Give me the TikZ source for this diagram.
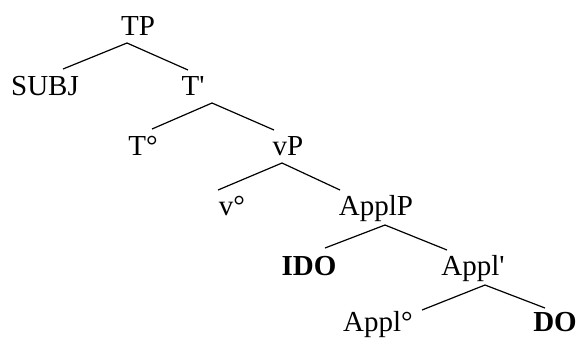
\documentclass[tikz,border=0pt]{standalone}
\usepackage{fontspec}
\setmainfont{Liberation Serif}
\usetikzlibrary{positioning}
\newcommand\treefont{\fontsize{14.5}{17}\selectfont}
\tikzset{
    every picture/.style = {
        x = 0.5pt,
        y = -0.5pt
    },
    lbl/.style = {
        anchor = base,
        inner sep = 0pt,
        outer sep = 0pt,
        font = \treefont
    },
    branch/.style = {
        line width = 0.6pt
    }
}

\begin{document}
\begin{tikzpicture}
    \useasboundingbox (0, 0) rectangle (581, 339);

    % labels
    \node[lbl] (tp)      at (138, 35)  {TP};
    \node[lbl] (subj)    at (45, 95)   {SUBJ};
    \node[lbl] (tbar)    at (193, 95)  {T\textquotesingle};
    \node[lbl] (t0)      at (143, 155) {T\textdegree};
    \node[lbl] (vp)      at (288, 155) {vP};
    \node[lbl] (v0)      at (232, 215) {v\textdegree};
    \node[lbl] (applp)   at (376, 215) {ApplP};
    \node[lbl] (ido)     at (309, 275) {\textbf{IDO}};
    \node[lbl] (applbar) at (473, 275) {Appl\textquotesingle};
    \node[lbl] (appl0)   at (378, 331) {Appl\textdegree};
    \node[lbl] (do)      at (555, 331) {\textbf{DO}};

    % branch ends
    \coordinate (tp-a)      at (127, 43);
    \coordinate (subj-e)    at (63, 69);
    \coordinate (tbar-e)    at (188, 70);
    \coordinate (tbar-a)    at (212, 103);
    \coordinate (t0-e)      at (152, 129);
    \coordinate (vp-e)      at (274, 130);
    \coordinate (vp-a)      at (282, 163);
    \coordinate (v0-e)      at (218, 190);
    \coordinate (applp-e)   at (340, 190);
    \coordinate (applp-a)   at (385, 225);
    \coordinate (ido-e)     at (325, 248);
    \coordinate (applbar-e) at (447, 250);
    \coordinate (applbar-a) at (485, 285);
    \coordinate (appl0-e)   at (422, 310);
    \coordinate (do-e)      at (545, 308);

    \draw[branch] (subj-e) -- (tp-a) -- (tbar-e);
    \draw[branch] (t0-e) -- (tbar-a) -- (vp-e);
    \draw[branch] (v0-e) -- (vp-a) -- (applp-e);
    \draw[branch] (ido-e) -- (applp-a) -- (applbar-e);
    \draw[branch] (appl0-e) -- (applbar-a) -- (do-e);
\end{tikzpicture}
\end{document}
